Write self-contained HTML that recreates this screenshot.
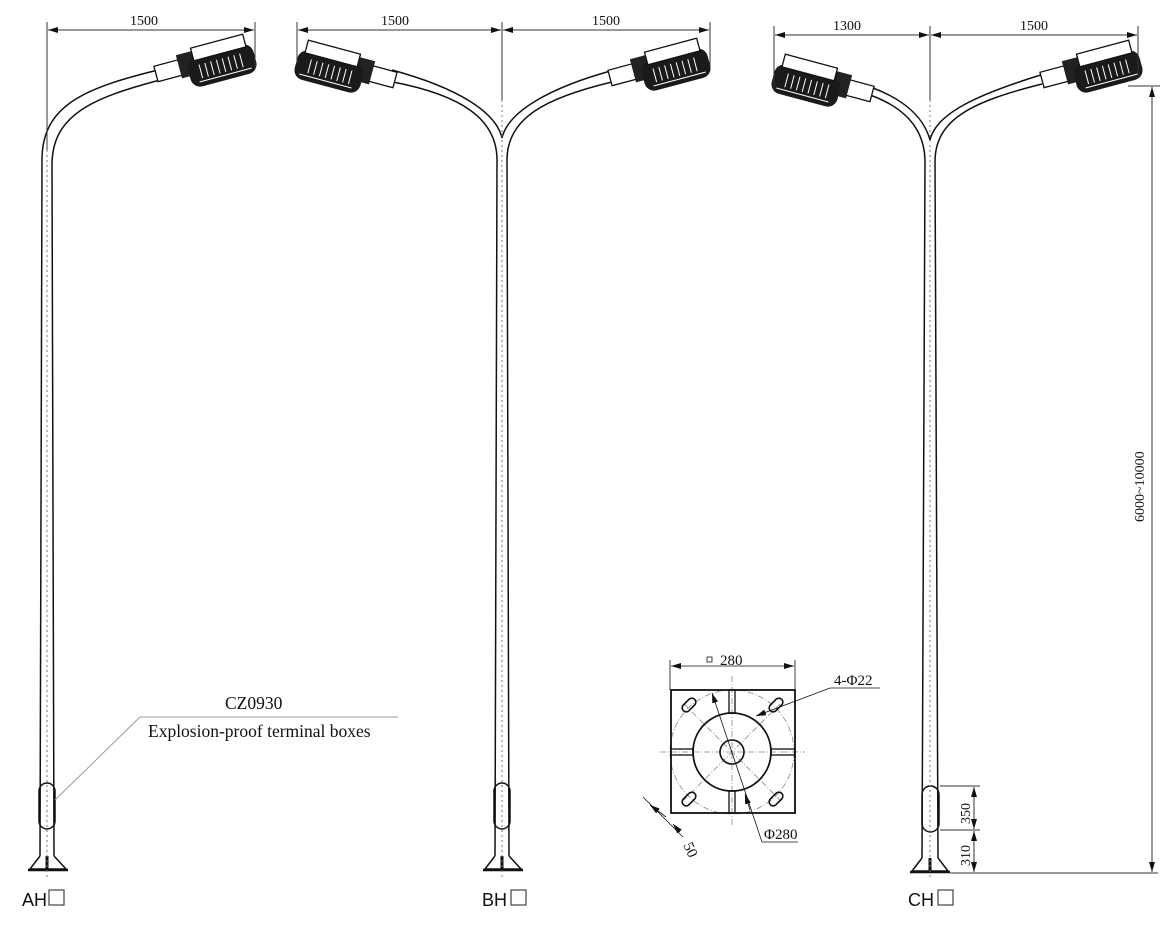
<!DOCTYPE html>
<html><head><meta charset="utf-8"><style>
html,body{margin:0;padding:0;background:#fff;}
svg{display:block}
text{font-family:"Liberation Serif",serif;fill:#111}
.s{font-family:"Liberation Sans",sans-serif}
</style></head><body>
<svg width="1170" height="925" viewBox="0 0 1170 925" xmlns="http://www.w3.org/2000/svg">
<defs>
<marker id="ar" viewBox="0 0 10 6" refX="10" refY="3" markerWidth="10" markerHeight="6" orient="auto-start-reverse" markerUnits="userSpaceOnUse"><path d="M0,0 L10,3 L0,6z" fill="#111"/></marker>
<symbol id="lamp" overflow="visible">
 <rect x="0" y="-8" width="30" height="16" fill="#fff" stroke="#111" stroke-width="1.3"/>
 <rect x="24" y="-13" width="16" height="24" fill="#222"/>
 <rect x="32" y="-6" width="68" height="30" rx="10" fill="#1a1a1a"/>
 <rect x="40" y="-16" width="54" height="13" fill="#fff" stroke="#111" stroke-width="1.3"/>
 <g stroke="#fff" stroke-width="1">
  <line x1="44" y1="2" x2="44" y2="16"/><line x1="50" y1="2" x2="50" y2="16"/><line x1="56" y1="2" x2="56" y2="16"/>
  <line x1="62" y1="2" x2="62" y2="16"/><line x1="68" y1="2" x2="68" y2="16"/><line x1="74" y1="2" x2="74" y2="16"/>
  <line x1="80" y1="2" x2="80" y2="16"/><line x1="86" y1="2" x2="86" y2="16"/><line x1="40" y1="19" x2="94" y2="19"/>
 </g>
</symbol>
</defs>
<g fill="none" stroke="#111" stroke-width="1.5">
<path d="M42,160 C42,105 85,88 158,70"/>
<path d="M52,165 C52,115 92,98 160,80"/>
<line x1="42" y1="160" x2="40" y2="856"/>
<line x1="52" y1="165" x2="54" y2="856"/>
<rect x="39" y="783" width="16" height="46" rx="8"/>
<path d="M40,856 L30,869 L66,869 L54,856"/>
<line x1="28" y1="870" x2="68" y2="870" stroke-width="2.5"/>
<line x1="47" y1="856" x2="47" y2="870" stroke-width="3"/>
<path d="M497,160 C497,118 460,95 393,82"/>
<path d="M502,138 C496,112 458,88 392,70"/>
<path d="M507,160 C507,118 545,98 612,82"/>
<path d="M502,138 C508,112 548,88 614,70"/>
<line x1="497" y1="160" x2="495" y2="856"/>
<line x1="507" y1="160" x2="509" y2="856"/>
<rect x="494" y="783" width="16" height="46" rx="8"/>
<path d="M495,856 L485,869 L521,869 L509,856"/>
<line x1="483" y1="870" x2="523" y2="870" stroke-width="2.5"/>
<line x1="502" y1="856" x2="502" y2="870" stroke-width="3"/>
<path d="M925,162 C925,122 895,104 870,95"/>
<path d="M930,140 C924,118 905,100 873,88"/>
<path d="M935,162 C935,120 970,102 1042,84"/>
<path d="M930,140 C936,114 975,95 1044,74"/>
<line x1="925" y1="162" x2="922" y2="858"/>
<line x1="935" y1="162" x2="938" y2="858"/>
<rect x="922" y="786" width="17" height="46" rx="8.5"/>
<path d="M922,858 L912,871 L948,871 L938,858"/>
<line x1="910" y1="872" x2="950" y2="872" stroke-width="2.5"/>
<line x1="930" y1="858" x2="930" y2="872" stroke-width="3"/>
</g>
<g stroke="#777" stroke-width="1" stroke-dasharray="2,3">
<line x1="47" y1="150" x2="47" y2="880"/>
<line x1="502" y1="100" x2="502" y2="880"/>
<line x1="930" y1="100" x2="930" y2="880"/>
</g>
<use href="#lamp" transform="translate(156,74) rotate(-15)"/>
<use href="#lamp" transform="translate(610,78) rotate(-15)"/>
<use href="#lamp" transform="translate(395,80) scale(-1,1) rotate(-15)"/>
<use href="#lamp" transform="translate(1042,80) rotate(-15)"/>
<use href="#lamp" transform="translate(872,94) scale(-1,1) rotate(-15)"/>
<g stroke="#333" stroke-width="1" fill="none">
<line x1="47" y1="22" x2="47" y2="150"/><line x1="255" y1="22" x2="255" y2="68"/>
<line x1="48" y1="30" x2="254" y2="30" marker-start="url(#ar)" marker-end="url(#ar)"/>
<line x1="297" y1="22" x2="297" y2="65"/><line x1="502" y1="22" x2="502" y2="100"/><line x1="710" y1="22" x2="710" y2="68"/>
<line x1="298" y1="30" x2="501" y2="30" marker-start="url(#ar)" marker-end="url(#ar)"/>
<line x1="503" y1="30" x2="709" y2="30" marker-start="url(#ar)" marker-end="url(#ar)"/>
<line x1="774" y1="26" x2="774" y2="90"/><line x1="930" y1="26" x2="930" y2="100"/><line x1="1138" y1="26" x2="1138" y2="78"/>
<line x1="775" y1="35" x2="929" y2="35" marker-start="url(#ar)" marker-end="url(#ar)"/>
<line x1="931" y1="35" x2="1137" y2="35" marker-start="url(#ar)" marker-end="url(#ar)"/>
<line x1="1128" y1="86" x2="1160" y2="86"/>
<line x1="1152" y1="87" x2="1152" y2="872" marker-start="url(#ar)" marker-end="url(#ar)"/>
<line x1="950" y1="873" x2="1158" y2="873"/>
<line x1="940" y1="786" x2="980" y2="786"/><line x1="940" y1="830" x2="980" y2="830"/>
<line x1="974" y1="787" x2="974" y2="829" marker-start="url(#ar)" marker-end="url(#ar)"/>
<line x1="974" y1="831" x2="974" y2="872" marker-start="url(#ar)" marker-end="url(#ar)"/>
<line x1="140" y1="717" x2="398" y2="717" stroke="#999"/>
<line x1="140" y1="717" x2="55" y2="800" stroke="#999"/>
</g>
<g font-size="14">
<text x="130" y="25">1500</text>
<text x="381" y="25">1500</text>
<text x="592" y="25">1500</text>
<text x="833" y="30">1300</text>
<text x="1020" y="30">1500</text>
<text transform="translate(1144,522) rotate(-90)">6000~10000</text>
<text transform="translate(970,824) rotate(-90)">350</text>
<text transform="translate(970,866) rotate(-90)">310</text>
</g>
<text x="225" y="709" font-size="17.5">CZ0930</text>
<text x="148" y="737" font-size="17.5">Explosion-proof terminal boxes</text>
<g font-size="18"><text class="s" x="22" y="906">AH</text><text class="s" x="482" y="906">BH</text><text class="s" x="908" y="906">CH</text></g>
<g fill="none" stroke="#444" stroke-width="1.2"><rect x="49" y="890" width="15" height="15"/><rect x="511" y="890" width="15" height="15"/><rect x="938" y="890" width="15" height="15"/></g>
<g fill="none" stroke="#111">
<line x1="670" y1="660" x2="670" y2="690" stroke-width="0.8"/><line x1="795" y1="660" x2="795" y2="690" stroke-width="0.8"/>
<line x1="671" y1="666" x2="794" y2="666" stroke-width="0.8" marker-start="url(#ar)" marker-end="url(#ar)"/>
<g stroke="#888" stroke-width="0.8" stroke-dasharray="6,2,1,2">
<circle cx="732" cy="752" r="62"/>
<line x1="732" y1="676" x2="732" y2="825"/><line x1="660" y1="752" x2="805" y2="752"/>
<line x1="684" y1="704" x2="780" y2="800"/><line x1="780" y1="704" x2="684" y2="800"/>
</g>
<rect x="671" y="690" width="124" height="123" stroke-width="1.8"/>
<circle cx="732" cy="752" r="39" stroke-width="1.8"/>
<circle cx="732" cy="752" r="12" stroke-width="1.6"/>
<g stroke-width="1.3">
<rect x="729" y="690" width="6" height="23"/><rect x="729" y="791" width="6" height="22"/>
<rect x="671" y="749" width="22" height="6"/><rect x="771" y="749" width="24" height="6"/>
</g>
<g stroke-width="1.6">
<rect x="681" y="701" width="16" height="8" rx="4" transform="rotate(-45 689 705)"/>
<rect x="768" y="701" width="16" height="8" rx="4" transform="rotate(-45 776 705)"/>
<rect x="681" y="795" width="16" height="8" rx="4" transform="rotate(-45 689 799)"/>
<rect x="768" y="795" width="16" height="8" rx="4" transform="rotate(-45 776 799)"/>
</g>
<rect x="707" y="657" width="5" height="5" stroke-width="0.8"/>
<g stroke-width="0.8">
<line x1="712" y1="693" x2="762" y2="842" marker-start="url(#ar)"/>
<line x1="745" y1="794" x2="750" y2="810" marker-start="url(#ar)"/>
<line x1="762" y1="842" x2="798" y2="842"/>
<line x1="756" y1="716" x2="830" y2="688" marker-start="url(#ar)"/>
<line x1="830" y1="688" x2="880" y2="688"/>
<line x1="643" y1="797" x2="683" y2="837"/>
<line x1="666" y1="817" x2="650" y2="805" marker-end="url(#ar)"/>
<line x1="673" y1="824" x2="680" y2="832" marker-start="url(#ar)"/>
</g>
</g>
<g font-size="15">
<text x="720" y="665">280</text>
<text x="834" y="685">4-Φ22</text>
<text x="764" y="839">Φ280</text>
<text transform="translate(683,845) rotate(65)">50</text>
</g>
</svg>
</body></html>
